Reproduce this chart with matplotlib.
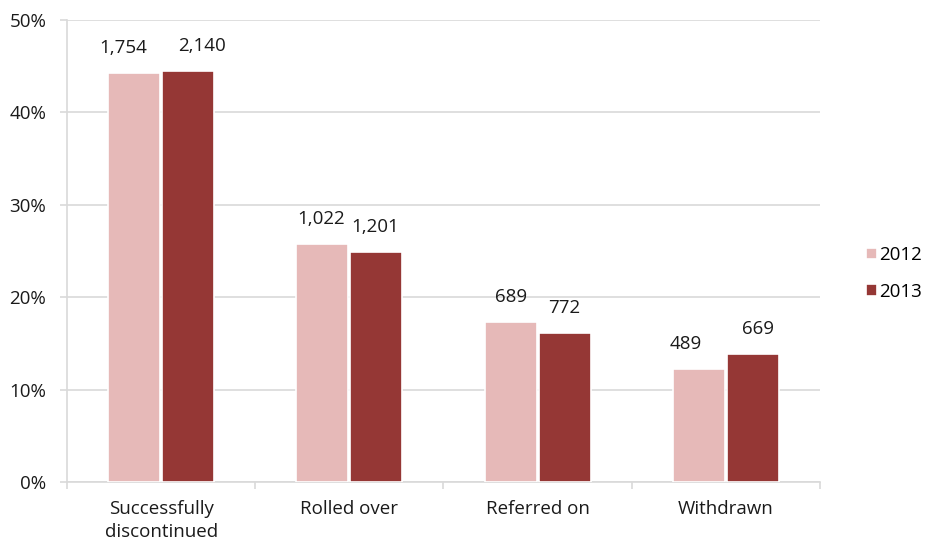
import matplotlib
matplotlib.use('Agg')
import matplotlib.pyplot as plt
import numpy as np

# Data
categories = ['Successfully\ndiscontinued', 'Rolled over', 'Referred on', 'Withdrawn']
years = ['2012', '2013']
share_2012 = [44.3, 25.8, 17.3, 12.2]
share_2013 = [44.5, 24.9, 16.1, 13.9]
counts_2012 = ['1,754', '1,022', '689', '489']
counts_2013 = ['2,140', '1,201', '772', '669']
y_ticks = [0, 10, 20, 30, 40, 50]

COLOR_2012 = '#e6b9b8'
COLOR_2013 = '#953735'
GRID = '#d9d9d9'
TEXT = '#1a1a1a'
FS = 13.5

plt.rcParams['font.family'] = ['Open Sans', 'DejaVu Sans']

fig = plt.figure(figsize=(9.25, 5.47), dpi=100)
ax = fig.add_axes([0.0724, 0.1183, 0.8141, 0.8455])

x = np.arange(len(categories))
w = 0.277
bars12 = ax.bar(x - w / 2 - 0.005, share_2012, width=w, color=COLOR_2012,
                edgecolor='white', linewidth=1.2, zorder=3, label=years[0])
bars13 = ax.bar(x + w / 2 + 0.005, share_2013, width=w, color=COLOR_2013,
                edgecolor='white', linewidth=1.2, zorder=3, label=years[1])

# value labels (Excel placed a few of them slightly off-centre)
nudge_12 = [-11, -1, 0, -13]
nudge_13 = [14, -1, 0, 5]
for bars, labels, nudges in ((bars12, counts_2012, nudge_12), (bars13, counts_2013, nudge_13)):
    for b, lab, dx in zip(bars, labels, nudges):
        ax.annotate(lab, (b.get_x() + b.get_width() / 2, b.get_height()),
                    xytext=(dx * 0.72, 18), textcoords='offset points',
                    ha='center', va='center', fontsize=FS, color=TEXT)

ax.set_xlim(-0.5, len(categories) - 0.5)
ax.set_ylim(0, 50)
ax.set_yticks(y_ticks)
ax.set_yticklabels([f'{t}%' for t in y_ticks])
ax.yaxis.grid(True, color=GRID, linewidth=1.2, zorder=0)
ax.set_axisbelow(True)

ax.set_xticks(x)
ax.set_xticklabels(categories, linespacing=1.3)
ax.set_xticks(np.arange(len(categories) + 1) - 0.5, minor=True)
ax.tick_params(axis='x', which='major', length=0, pad=13, labelsize=FS, colors=TEXT)
ax.tick_params(axis='x', which='minor', length=5, width=1.2, color=GRID)
ax.tick_params(axis='y', length=5, width=1.2, color=GRID, labelsize=FS,
               labelcolor=TEXT, pad=10)

for side in ('top', 'right'):
    ax.spines[side].set_visible(False)
for side in ('left', 'bottom'):
    ax.spines[side].set_color(GRID)
    ax.spines[side].set_linewidth(1.2)

ax.legend(loc='center left', bbox_to_anchor=(0.928, 0.50), bbox_transform=fig.transFigure,
          frameon=False, fontsize=FS, handlelength=0.6, handleheight=0.6,
          handletextpad=0.1, labelspacing=1.0, borderaxespad=0)

fig.savefig('out.png', dpi=100, facecolor='white')
